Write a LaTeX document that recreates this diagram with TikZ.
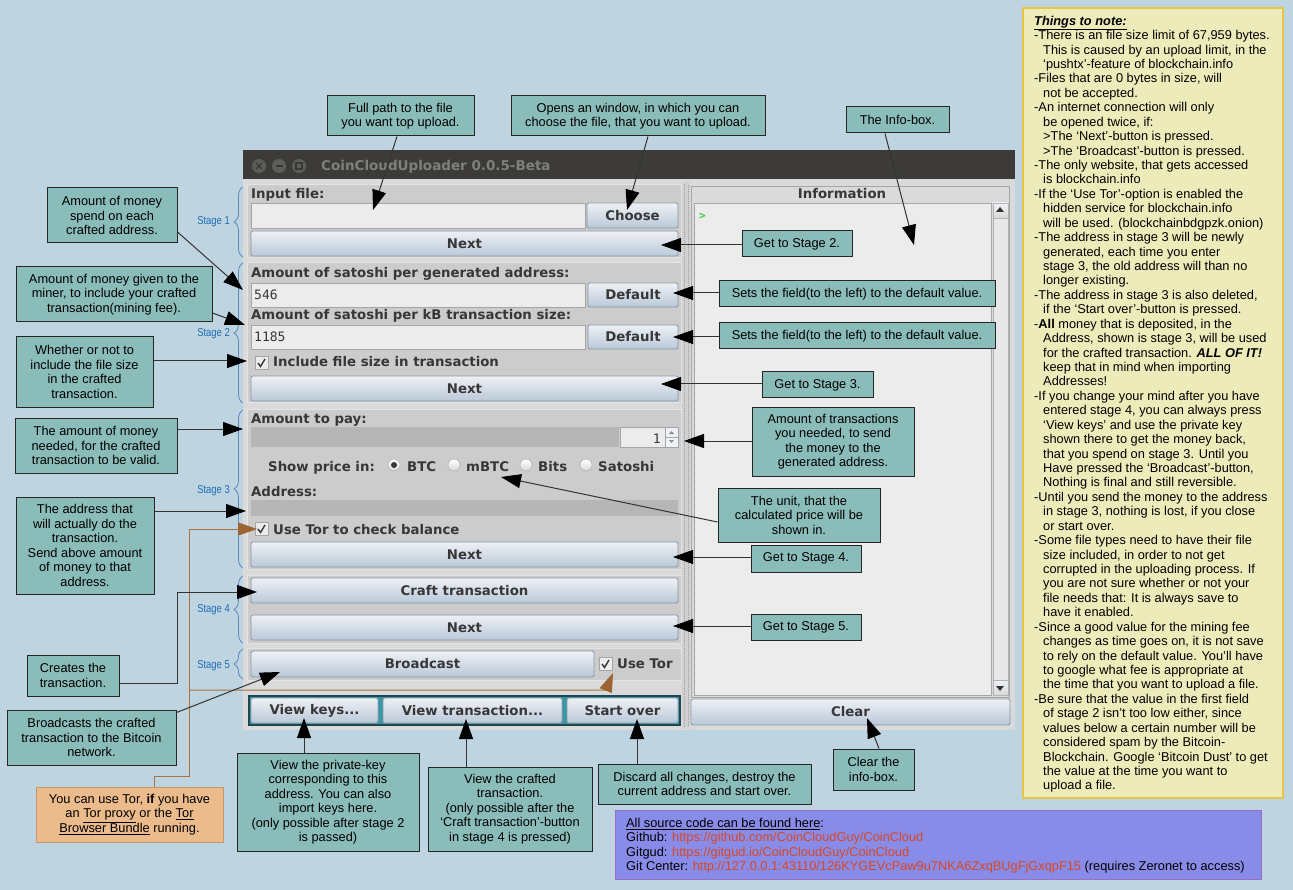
\documentclass[tikz,border=0pt]{standalone}
\usepackage{fontspec}
\setmainfont{Liberation Sans}
\newfontfamily\guifont{DejaVu Sans}
\newfontfamily\guimono{DejaVu Sans Mono}
\newfontfamily\stagefont[FakeStretch=0.82]{Liberation Sans}
\usetikzlibrary{arrows.meta,calc,decorations.pathreplacing}
\definecolor{bgblue}{RGB}{190,212,225}
\definecolor{tealbox}{RGB}{138,188,185}
\definecolor{orangebox}{RGB}{235,187,140}
\definecolor{orangeedge}{RGB}{196,150,104}
\definecolor{notefill}{RGB}{238,235,186}
\definecolor{noteedge}{RGB}{232,196,72}
\definecolor{purplefill}{RGB}{137,139,232}
\definecolor{purpleedge}{RGB}{150,110,200}
\definecolor{linkred}{RGB}{214,72,40}
\definecolor{brownline}{RGB}{166,116,66}
\definecolor{brownhead}{RGB}{156,100,50}
\definecolor{stageblue}{RGB}{30,110,180}
\definecolor{bracecol}{RGB}{95,135,185}
\definecolor{titlebar}{RGB}{60,59,55}
\definecolor{titletext}{RGB}{128,128,122}
\definecolor{titlecirc}{RGB}{92,92,88}
\definecolor{titlesym}{RGB}{55,55,52}
\definecolor{guibg}{RGB}{218,218,218}
\definecolor{panelbg}{RGB}{204,204,204}
\definecolor{panelline}{RGB}{228,228,228}
\definecolor{fieldbg}{RGB}{236,236,236}
\definecolor{fieldline}{RGB}{165,165,165}
\definecolor{darkbar}{RGB}{182,182,182}
\definecolor{btntop}{RGB}{238,241,245}
\definecolor{btnbot}{RGB}{186,200,216}
\definecolor{btnline}{RGB}{135,150,165}
\definecolor{guitext}{RGB}{55,55,55}
\definecolor{frameteal}{RGB}{58,150,165}
\definecolor{framedark}{RGB}{28,72,82}
\definecolor{termgreen}{RGB}{60,200,60}
\newcommand\calloutfont{\fontsize{12.8}{14.5}\selectfont}
\newcommand\guilabelfont{\guifont\bfseries\fontsize{13.3}{16}\selectfont}
\newcommand\nind{\hspace*{9pt}}
\newcommand\mkbox[7][callout]{\node[#1, minimum width={(#5-#3)*1pt}, minimum height={(#6-#4)*1pt}] (#2) at ({(#3+#5)/2},{(#4+#6)/2}) {#7};}
\newcommand\chkbox[2]{%
  \draw[fieldline, fill=fieldbg] (#1,#2) rectangle ++(13,13);
  \draw[guitext, line width=1.4pt] ({#1+3},{#2+7}) -- ({#1+5.5},{#2+10.5}) -- ({#1+10},{#2+3});}
\begin{document}
\begin{tikzpicture}[x=1pt,y=-1pt,
  callout/.style={draw=black!85, line width=1pt, fill=tealbox, align=center, inner sep=0pt, font=\calloutfont},
  gbtn/.style={draw=btnline, line width=0.8pt, top color=btntop, bottom color=btnbot, rounded corners=1.5pt, inner sep=0pt, font=\guilabelfont, text=guitext},
  gfield/.style={draw=fieldline, line width=0.8pt, fill=fieldbg, inner sep=0pt},
  gpanel/.style={draw=panelline, line width=1pt, fill=panelbg},
  glabel/.style={anchor=base west, inner sep=0pt, font=\guilabelfont, text=guitext},
  gmono/.style={inner sep=0pt, font=\guimono\fontsize{13}{14}\selectfont, text=guitext},
  radiob/.style={draw=fieldline, top color=white, bottom color=black!15},
  arr/.style={draw=black!80, line width=1pt, -{Triangle[length=20pt,width=14pt,color=black]}},
  barr/.style={draw=brownline, line width=1pt, -{Triangle[length=19pt,width=13pt,color=brownhead]}},
  stagebrace/.style={draw=bracecol, line width=0.8pt, decorate, decoration={brace, amplitude=9pt}},
  stagelabel/.style={anchor=base east, inner sep=0pt, text=stageblue, font=\stagefont\fontsize{11.5}{12}\selectfont},
  plaintext/.style={anchor=north west, inner sep=0pt, align=left, font=\fontsize{12.8}{14.43}\selectfont},
]
\useasboundingbox (0,0) rectangle (1293,890);
\fill[bgblue] (0,0) rectangle (1293,890);

% ---------- application window ----------
\fill[titlebar] (243,150) rectangle (1015,179);
\fill[guibg] (243,179) rectangle (1015,730);
\fill[titlecirc] (259,166) circle (7);
\fill[titlecirc] (279,166) circle (7);
\fill[titlecirc] (299,166) circle (7);
\draw[titlesym, line width=1.2pt] (256,163) -- (262,169) (256,169) -- (262,163);
\draw[titlesym, line width=1.2pt] (275.5,166) -- (282.5,166);
\draw[titlesym, line width=1.2pt] (296,163) rectangle (302,169);
\node[anchor=base west, inner sep=0pt, text=titletext, font=\guifont\bfseries\fontsize{13.5}{16}\selectfont] (title) at (321,171) {CoinCloudUploader 0.0.5-Beta};

% splitter
\fill[black!18] (682,182) rectangle (690,729);
\draw[black!38, line width=1pt, dash pattern=on 1pt off 1pt] (684,184) -- (684,727);
\draw[black!38, line width=1pt, dash pattern=on 1pt off 1pt] (688,185) -- (688,727);

% stage panels
\draw[gpanel] (247,185) rectangle (681,258);
\draw[gpanel] (247,263) rectangle (681,403);
\draw[gpanel] (247,409) rectangle (681,569);
\draw[gpanel] (247,575) rectangle (681,643);
\draw[gpanel] (247,648) rectangle (681,680);

% stage 1
\node[glabel] (lin) at (251,199) {Input file:};
\mkbox[gfield]{fin}{251}{203}{585}{228}{}
\mkbox[gbtn]{bch}{587}{203}{678}{228}{Choose}
\mkbox[gbtn]{bn1}{251}{231}{678}{256}{Next}

% stage 2
\node[glabel] (lsat) at (251,278) {Amount of satoshi per generated address:};
\mkbox[gfield]{fsat}{251}{283}{585}{307}{}
\node[gmono, anchor=base west] (vsat) at (254,300) {546};
\mkbox[gbtn]{bd1}{588}{283}{678}{307}{Default}
\node[glabel] (lfee) at (251,320) {Amount of satoshi per kB transaction size:};
\mkbox[gfield]{ffee}{251}{325}{585}{349}{}
\node[gmono, anchor=base west] (vfee) at (254,342) {1185};
\mkbox[gbtn]{bd2}{588}{325}{678}{349}{Default}
\chkbox{255}{356}
\node[glabel] (lincl) at (273,367) {Include file size in transaction};
\mkbox[gbtn]{bn2}{251}{376}{678}{401}{Next}

% stage 3
\node[glabel] (lpay) at (251,423) {Amount to pay:};
\fill[darkbar] (251,427) rectangle (619,447);
\mkbox[gfield]{fspin}{620}{427}{665}{447}{}
\node[gmono, anchor=base east] (vspin) at (661,443) {1};
\draw[fieldline, fill=btntop] (665,427) rectangle (678,437);
\draw[fieldline, fill=btntop] (665,437) rectangle (678,447);
\fill[black!45] (669,434) -- (674,434) -- (671.5,431) -- cycle;
\fill[black!45] (669,440) -- (674,440) -- (671.5,443) -- cycle;
\node[glabel] (lshow) at (268,471) {Show price in:};
\draw[radiob] (394,465) circle (6);
\fill[guitext] (394,465) circle (3);
\draw[radiob] (454,465) circle (6);
\draw[radiob] (526,465) circle (6);
\draw[radiob] (586,465) circle (6);
\node[glabel] (rbtc) at (407,471) {BTC};
\node[glabel] (rmbtc) at (466,471) {mBTC};
\node[glabel] (rbits) at (538,471) {Bits};
\node[glabel] (rsat) at (598,471) {Satoshi};
\node[glabel] (laddr) at (251,496) {Address:};
\fill[darkbar] (251,500) rectangle (678,516);
\chkbox{255}{522}
\node[glabel] (ltor) at (273,534) {Use Tor to check balance};
\mkbox[gbtn]{bn3}{251}{542}{678}{567}{Next}

% stage 4
\mkbox[gbtn]{bcraft}{251}{578}{678}{603}{Craft transaction}
\mkbox[gbtn]{bn4}{251}{615}{678}{640}{Next}

% stage 5
\mkbox[gbtn]{bbc}{251}{651}{594}{677}{Broadcast}
\chkbox{599}{657}
\node[glabel] (ltor2) at (617,668) {Use Tor};

% bottom buttons
\draw[line width=2pt, draw=framedark, fill=frameteal] (249,696) rectangle (680,725);
\mkbox[gbtn]{bvk}{251}{698}{378}{723}{View keys...}
\mkbox[gbtn]{bvt}{383}{698}{562}{723}{View transaction...}
\mkbox[gbtn]{bso}{567}{698}{678}{723}{Start over}

% information panel
\draw[black!35, fill=guibg] (691,186) rectangle (1009,697);
\node[anchor=base, inner sep=0pt, font=\guilabelfont, text=guitext] (info) at (842,199) {Information};
\draw[black!35, fill=fieldbg] (694,203) rectangle (991,695);
\draw[black!30, fill=black!9] (993,203) rectangle (1008,695);
\draw[black!30, top color=btntop, bottom color=black!15] (993,203) rectangle (1008,218);
\fill[black!80] (996,212) -- (1004,212) -- (1000,207) -- cycle;
\draw[black!30, top color=btntop, bottom color=black!15] (993,680) rectangle (1008,695);
\fill[black!80] (996,686) -- (1004,686) -- (1000,691) -- cycle;
\node[anchor=base west, inner sep=0pt, text=termgreen, font=\guimono\bfseries\fontsize{11}{12}\selectfont] (prompt) at (699,220) {>};
\mkbox[gbtn]{bclr}{691}{699}{1010}{725}{Clear}

% stage braces
\draw[stagebrace] (243,257) -- (243,187);
\node[stagelabel] (s1) at (230,225) {Stage 1};
\draw[stagebrace] (243,403) -- (243,263);
\node[stagelabel] (s2) at (230,337) {Stage 2};
\draw[stagebrace] (243,568) -- (243,410);
\node[stagelabel] (s3) at (230,493) {Stage 3};
\draw[stagebrace] (243,643) -- (243,576);
\node[stagelabel] (s4) at (230,612) {Stage 4};
\draw[stagebrace] (243,679) -- (243,649);
\node[stagelabel] (s5) at (230,668) {Stage 5};

% ---------- callouts ----------
\mkbox{c1}{327}{96}{474}{136}{Full path to the file\\you want top upload.}
\mkbox{c2}{511}{96}{765}{136}{Opens an window, in which you can\\choose the file, that you want to upload.}
\mkbox{c3}{846}{107}{949}{133}{The Info-box.}
\mkbox{c4}{47}{188}{177}{243}{Amount of money\\spend on each\\crafted address.}
\mkbox{c5}{16}{267}{212}{322}{Amount of money given to the\\miner, to include your crafted\\transaction(mining fee).}
\mkbox{c6}{16}{337}{153}{407}{Whether or not to\\include the file size\\in the crafted\\transaction.}
\mkbox{c7}{15}{418}{177}{473}{The amount of money\\needed, for the crafted\\transaction to be valid.}
\mkbox{c8}{16}{497}{154}{594}{The address that\\will actually do the\\transaction.\\Send above amount\\of money to that\\address.}
\mkbox{c9}{27}{655}{119}{696}{Creates the\\transaction.}
\mkbox{c10}{7}{710}{176}{765}{Broadcasts the crafted\\transaction to the Bitcoin\\network.}
\mkbox[callout, fill=orangebox, draw=orangeedge]{c11}{36}{787}{223}{842}{You can use Tor, \textbf{if} you have\\an \underline{Tor proxy} or the \underline{Tor}\\\underline{Browser Bundle} running.}
\mkbox{c12}{742}{231}{852}{257}{Get to Stage 2.}
\mkbox{c13}{719}{281}{995}{307}{Sets the field(to the left) to the default value.}
\mkbox{c14}{719}{323}{995}{349}{Sets the field(to the left) to the default value.}
\mkbox{c15}{762}{372}{873}{398}{Get to Stage 3.}
\mkbox{c16}{752}{407}{914}{476}{Amount of transactions\\you needed, to send\\the money to the\\generated address.}
\mkbox{c17}{718}{488}{880}{542}{The unit, that the\\calculated price will be\\shown in.}
\mkbox{c18}{751}{545}{861}{572}{Get to Stage 4.}
\mkbox{c19}{751}{614}{861}{640}{Get to Stage 5.}
\mkbox{c20}{237}{753}{419}{851}{View the private-key\\corresponding to this\\address. You can also\\import keys here.\\(only possible after stage 2\\is passed)}
\mkbox{c21}{428}{767}{592}{851}{View the crafted\\transaction.\\(only possible after the\\‘Craft transaction’-button\\in stage 4 is pressed)}
\mkbox{c22}{598}{764}{811}{804}{Discard all changes, destroy the\\current address and start over.}
\mkbox{c23}{833}{749}{914}{790}{Clear the\\info-box.}

% ---------- connector end points ----------
\coordinate (t1) at (373,210);
\coordinate (t2) at (627,210);
\coordinate (t3) at (914,245);
\coordinate (t4) at (243,290);
\coordinate (t5) at (245,325);
\coordinate (t6) at (247,361);
\coordinate (t7) at (243,429);
\coordinate (t8) at (246,511);
\coordinate (k9) at (177,592);
\coordinate (t9) at (257,592);
\coordinate (t10) at (280,672);
\coordinate (k11a) at (189,776);
\coordinate (t11) at (257,529);
\coordinate (k11b) at (189,690);
\coordinate (k11c) at (606,690);
\coordinate (t11b) at (613,673);
\coordinate (t12) at (661,245);
\coordinate (t13) at (673,293);
\coordinate (t14) at (673,337);
\coordinate (t15) at (661,384);
\coordinate (t16) at (684,441);
\coordinate (t17) at (501,477);
\coordinate (t18) at (673,557);
\coordinate (t19) at (673,626);
\coordinate (t20) at (304,718);
\coordinate (t21) at (466,719);
\coordinate (t22) at (637,719);
\coordinate (t23) at (867,718);

% ---------- connectors ----------
\draw[barr] ($(c11.north)+(24.5,0)$) |- (k11a) |- (t11);
\draw[barr] (k11b) -- (k11c) -- (t11b);
\draw[arr] ($(c1.south)+(-3.5,0)$) -- (t1);
\draw[arr] ($(c2.south)+(10,0)$) -- (t2);
\draw[arr] ($(c3.south)+(-12.5,0)$) -- (t3);
\draw[arr] ($(c4.east)+(0,16.5)$) -- (t4);
\draw[arr] ($(c5.east)+(0,18.5)$) -- (t5);
\draw[arr] (c6.east |- t6) -- (t6);
\draw[arr] (c7.east |- t7) -- (t7);
\draw[arr] (c8.east |- t8) -- (t8);
\draw[arr] ($(c9.east)+(0,7.5)$) -| (k9) -- (t9);
\draw[arr] ($(c10.north east)+(0,3)$) -- (t10);
\draw[arr] (c12.west |- t12) -- (t12);
\draw[arr] (c13.west |- t13) -- (t13);
\draw[arr] (c14.west |- t14) -- (t14);
\draw[arr] (c15.west |- t15) -- (t15);
\draw[arr] (c16.west |- t16) -- (t16);
\draw[arr] ($(c17.west)+(0,7)$) -- (t17);
\draw[arr] (c18.west |- t18) -- (t18);
\draw[arr] (c19.west |- t19) -- (t19);
\draw[arr] (t20 |- c20.north) -- (t20);
\draw[arr] (t21 |- c21.north) -- (t21);
\draw[arr] (t22 |- c22.north) -- (t22);
\draw[arr] ($(c23.north)+(5.5,0)$) -- (t23);

% ---------- notes ----------
\mkbox[draw=noteedge, line width=1.5pt, fill=notefill, inner sep=0pt]{notes}{1023}{8}{1283}{798}{}
\node[plaintext] (notetext) at (1034,15.7) {%
\underline{\textbf{\textit{Things to note:}}}\\
-There is an file size limit of 67,959 bytes.\\
\nind This is caused by an upload limit, in the\\
\nind ‘pushtx’-feature of blockchain.info\\
-Files that are 0 bytes in size, will\\
\nind not be accepted.\\
-An internet connection will only\\
\nind be opened twice, if:\\
\nind >The ‘Next’-button is pressed.\\
\nind >The ‘Broadcast’-button is pressed.\\
-The only website, that gets accessed\\
\nind is blockchain.info\\
-If the ‘Use Tor’-option is enabled the\\
\nind hidden service for blockchain.info\\
\nind will be used. (blockchainbdgpzk.onion)\\
-The address in stage 3 will be newly\\
\nind generated, each time you enter\\
\nind stage 3, the old address will than no\\
\nind longer existing.\\
-The address in stage 3 is also deleted,\\
\nind if the ‘Start over’-button is pressed.\\
-\textbf{All} money that is deposited, in the\\
\nind Address, shown is stage 3, will be used\\
\nind for the crafted transaction. \textbf{\textit{ALL OF IT!}}\\
\nind keep that in mind when importing\\
\nind Addresses!\\
-If you change your mind after you have\\
\nind entered stage 4, you can always press\\
\nind ‘View keys’ and use the private key\\
\nind shown there to get the money back,\\
\nind that you spend on stage 3. Until you\\
\nind Have pressed the ‘Broadcast’-button,\\
\nind Nothing is final and still reversible.\\
-Until you send the money to the address\\
\nind in stage 3, nothing is lost, if you close\\
\nind or start over.\\
-Some file types need to have their file\\
\nind size included, in order to not get\\
\nind corrupted in the uploading process. If\\
\nind you are not sure whether or not your\\
\nind file needs that: It is always save to\\
\nind have it enabled.\\
-Since a good value for the mining fee\\
\nind changes as time goes on, it is not save\\
\nind to rely on the default value. You’ll have\\
\nind to google what fee is appropriate at\\
\nind the time that you want to upload a file.\\
-Be sure that the value in the first field\\
\nind of stage 2 isn’t too low either, since\\
\nind values below a certain number will be\\
\nind considered spam by the Bitcoin-\\
\nind Blockchain. Google ‘Bitcoin Dust’ to get\\
\nind the value at the time you want to\\
\nind upload a file.};

% ---------- source links ----------
\mkbox[draw=purpleedge, line width=1pt, fill=purplefill, inner sep=0pt]{src}{615}{810}{1261}{879}{}
\node[plaintext] (srctext) at (626,817.7) {%
\underline{All source code can be found here}:\\
Github: \textcolor{linkred}{https://github.com/CoinCloudGuy/CoinCloud}\\
Gitgud: \textcolor{linkred}{https://gitgud.io/CoinCloudGuy/CoinCloud}\\
Git Center: \textcolor{linkred}{http://127.0.0.1:43110/126KYGEVcPaw9u7NKA6ZxqBUgFjGxqpF15} (requires Zeronet to access)};
\end{tikzpicture}
\end{document}
